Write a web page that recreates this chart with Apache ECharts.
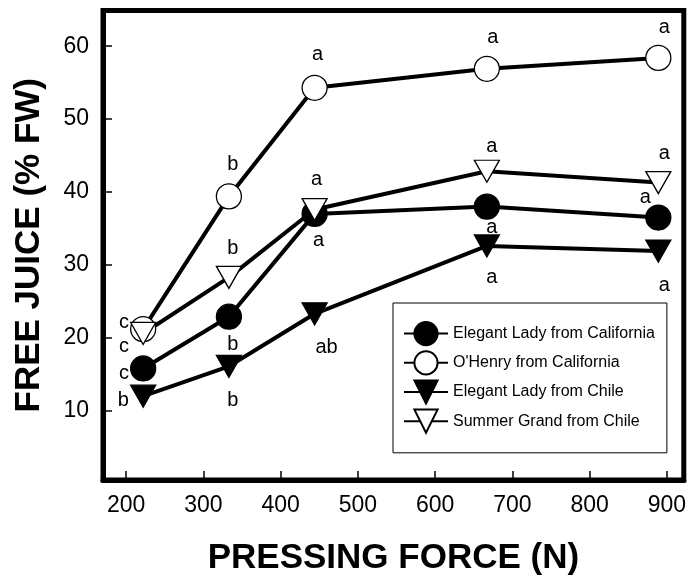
<!DOCTYPE html>
<html><head><meta charset="utf-8">
<script src="https://cdn.jsdelivr.net/npm/echarts@6/dist/echarts.min.js"></script>
<style>html,body{margin:0;padding:0;background:#fff}#c{width:689px;height:581px}</style>
</head><body><div id="c"></div>
<script>
// ---- data ----
const force = [222, 333, 444, 667, 889];
const seriesNames = ['Elegant Lady from California', "O'Henry from California", 'Elegant Lady from Chile', 'Summer Grand from Chile'];
const elCal = [15.8, 22.9, 37.0, 38.0, 36.5];
const ohCal = [21.2, 39.4, 54.3, 56.9, 58.4];
const elChile = [12.0, 16.1, 23.3, 32.6, 31.9];
const sgChile = [20.6, 28.3, 37.6, 42.85, 41.3];
const elCalLetters = ['c', 'b', 'a', 'a', 'a'];
const ohCalLetters = ['c', 'b', 'a', 'a', 'a'];
const elChileLetters = ['b', 'b', 'ab', 'a', 'a'];
const sgChileLetters = ['c', 'b', 'a', 'a', 'a'];
const xTicks = [200, 300, 400, 500, 600, 700, 800, 900];
const yTicks = [10, 20, 30, 40, 50, 60];
const xTitle = 'PRESSING FORCE (N)';
const yTitle = 'FREE JUICE (% FW)';

// ---- style (label placement per point: [position, dx, dy]) ----
const FONT = '"Liberation Sans", Arial, Helvetica, sans-serif';
const place = {
  elCal: [['left', 4, 5], ['bottom', 4, 0], ['bottom', 4, -2], ['bottom', 5, -7], ['top', -13, 8]],
  ohCal: [['left', 4, -7], ['top', 4, -4], ['top', 3, -5], ['top', 6, -3], ['top', 6, -2]],
  elChile: [['left', 4, 4], ['bottom', 4, 8], ['bottom', 12, 7], ['bottom', 5, 5], ['bottom', 6, 8]],
  sgChile: [['left', 4, 13], ['top', 4, -2], ['top', 2, -3], ['top', 5, 2], ['top', 6, -2]]
};

const TRI_DOWN = 'path://M0,0L2,0L1,1.76Z';

function mk(name, ys, letters, pl, shape, filled) {
  const tri = shape === 'tri';
  return {
    name: name,
    type: 'line',
    symbol: tri ? TRI_DOWN : 'circle',
    symbolSize: tri ? [25, 22] : 25,
    symbolKeepAspect: false,
    lineStyle: { color: '#000', width: 4 },
    itemStyle: { color: filled ? '#000' : '#fff', borderColor: '#000', borderWidth: 1.3 },
    label: { show: true, fontSize: 20, color: '#000', fontFamily: FONT, distance: 5 },
    emphasis: { disabled: true },
    silent: true,
    data: force.map((x, i) => ({
      value: [x, ys[i]],
      label: { formatter: letters[i], position: pl[i][0], offset: [pl[i][1], pl[i][2]] }
    }))
  };
}

const chart = echarts.init(document.getElementById('c'), null, { renderer: 'canvas' });
chart.setOption({
  animation: false,
  backgroundColor: '#fff',
  grid: { left: 103, right: 5, top: 10.5, bottom: 99, show: true, borderColor: '#000', borderWidth: 5, backgroundColor: 'transparent' },
  xAxis: {
    type: 'value', min: 170, max: 922,
    name: xTitle, nameLocation: 'middle', nameGap: 61,
    nameTextStyle: { fontSize: 35, fontWeight: 'bold', color: '#000', fontFamily: FONT },
    axisLine: { show: true, lineStyle: { color: '#000', width: 5 } },
    axisTick: { show: true, inside: true, length: 9, customValues: xTicks, lineStyle: { color: '#000', width: 1.5 } },
    axisLabel: { fontSize: 23, color: '#000', fontFamily: FONT, margin: 14, customValues: xTicks },
    splitLine: { show: false }
  },
  yAxis: {
    type: 'value', min: 0.5, max: 64.9,
    name: yTitle, nameLocation: 'middle', nameGap: 56,
    nameTextStyle: { fontSize: 35, fontWeight: 'bold', color: '#000', fontFamily: FONT },
    axisLine: { show: true, lineStyle: { color: '#000', width: 5 } },
    axisTick: { show: true, inside: true, length: 9, customValues: yTicks, lineStyle: { color: '#000', width: 1.5 } },
    axisLabel: { fontSize: 23, color: '#000', fontFamily: FONT, margin: 14, customValues: yTicks },
    splitLine: { show: false }
  },
  legend: {
    orient: 'vertical', left: 393, top: 303,
    data: seriesNames,
    itemWidth: 44, itemHeight: 29, itemGap: 4,
    padding: [18, 12, 19, 10],
    borderColor: '#000', borderWidth: 1, backgroundColor: '#fff',
    textStyle: { fontSize: 16, color: '#000', fontFamily: FONT },
    selectedMode: false
  },
  series: [
    mk(seriesNames[0], elCal, elCalLetters, place.elCal, 'circle', true),
    mk(seriesNames[1], ohCal, ohCalLetters, place.ohCal, 'circle', false),
    mk(seriesNames[2], elChile, elChileLetters, place.elChile, 'tri', true),
    mk(seriesNames[3], sgChile, sgChileLetters, place.sgChile, 'tri', false)
  ]
});
</script>
</body></html>
